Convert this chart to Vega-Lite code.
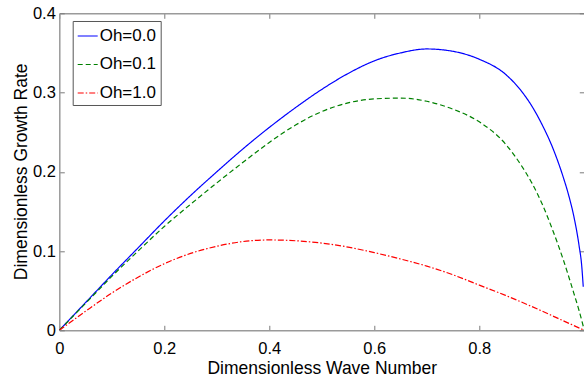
{
  "$schema": "https://vega.github.io/schema/vega-lite/v6.json",
  "width": 525,
  "height": 317,
  "autosize": "none",
  "padding": {"left": 59.3, "top": 13.3, "right": 0, "bottom": 50},
  "background": "white",
  "config": {
    "view": {"stroke": null},
    "font": "Liberation Sans",
    "axis": {"grid": false, "labelFlush": false, "domainColor": "#9a9a9a", "domainWidth": 1.5, "tickColor": "#7a7a7a", "tickSize": -5, "tickWidth": 1, "labelColor": "black", "labelFont": "Liberation Sans", "labelFontSize": 16.5, "titleFont": "Liberation Sans", "titleFontSize": 17.5, "titleFontWeight": "normal", "titleColor": "black"}
  },
  "data": {"values": [
    {"k": 0, "s": 0, "series": "Oh=0.0"},
    {"k": 0.05, "s": 0.035, "series": "Oh=0.0"},
    {"k": 0.1, "s": 0.070, "series": "Oh=0.0"},
    {"k": 0.15, "s": 0.104, "series": "Oh=0.0"},
    {"k": 0.2, "s": 0.138, "series": "Oh=0.0"},
    {"k": 0.25, "s": 0.170, "series": "Oh=0.0"},
    {"k": 0.3, "s": 0.200, "series": "Oh=0.0"},
    {"k": 0.35, "s": 0.229, "series": "Oh=0.0"},
    {"k": 0.4, "s": 0.256, "series": "Oh=0.0"},
    {"k": 0.45, "s": 0.281, "series": "Oh=0.0"},
    {"k": 0.5, "s": 0.304, "series": "Oh=0.0"},
    {"k": 0.55, "s": 0.324, "series": "Oh=0.0"},
    {"k": 0.6, "s": 0.340, "series": "Oh=0.0"},
    {"k": 0.65, "s": 0.350, "series": "Oh=0.0"},
    {"k": 0.7, "s": 0.355, "series": "Oh=0.0"},
    {"k": 0.75, "s": 0.352, "series": "Oh=0.0"},
    {"k": 0.8, "s": 0.342, "series": "Oh=0.0"},
    {"k": 0.85, "s": 0.323, "series": "Oh=0.0"},
    {"k": 0.88, "s": 0.302, "series": "Oh=0.0"},
    {"k": 0.9, "s": 0.283, "series": "Oh=0.0"},
    {"k": 0.92, "s": 0.259, "series": "Oh=0.0"},
    {"k": 0.94, "s": 0.230, "series": "Oh=0.0"},
    {"k": 0.96, "s": 0.193, "series": "Oh=0.0"},
    {"k": 0.97, "s": 0.171, "series": "Oh=0.0"},
    {"k": 0.98, "s": 0.144, "series": "Oh=0.0"},
    {"k": 0.99, "s": 0.107, "series": "Oh=0.0"},
    {"k": 0.995, "s": 0.082, "series": "Oh=0.0"},
    {"k": 0.998, "s": 0.055, "series": "Oh=0.0"},
    {"k": 0, "s": 0, "series": "Oh=0.1"},
    {"k": 0.05, "s": 0.034, "series": "Oh=0.1"},
    {"k": 0.1, "s": 0.068, "series": "Oh=0.1"},
    {"k": 0.15, "s": 0.100, "series": "Oh=0.1"},
    {"k": 0.2, "s": 0.131, "series": "Oh=0.1"},
    {"k": 0.25, "s": 0.159, "series": "Oh=0.1"},
    {"k": 0.3, "s": 0.186, "series": "Oh=0.1"},
    {"k": 0.35, "s": 0.212, "series": "Oh=0.1"},
    {"k": 0.4, "s": 0.237, "series": "Oh=0.1"},
    {"k": 0.45, "s": 0.259, "series": "Oh=0.1"},
    {"k": 0.5, "s": 0.276, "series": "Oh=0.1"},
    {"k": 0.55, "s": 0.287, "series": "Oh=0.1"},
    {"k": 0.6, "s": 0.292, "series": "Oh=0.1"},
    {"k": 0.65, "s": 0.293, "series": "Oh=0.1"},
    {"k": 0.7, "s": 0.289, "series": "Oh=0.1"},
    {"k": 0.75, "s": 0.279, "series": "Oh=0.1"},
    {"k": 0.8, "s": 0.263, "series": "Oh=0.1"},
    {"k": 0.85, "s": 0.235, "series": "Oh=0.1"},
    {"k": 0.88, "s": 0.208, "series": "Oh=0.1"},
    {"k": 0.9, "s": 0.186, "series": "Oh=0.1"},
    {"k": 0.92, "s": 0.159, "series": "Oh=0.1"},
    {"k": 0.94, "s": 0.126, "series": "Oh=0.1"},
    {"k": 0.96, "s": 0.089, "series": "Oh=0.1"},
    {"k": 0.98, "s": 0.047, "series": "Oh=0.1"},
    {"k": 0.99, "s": 0.025, "series": "Oh=0.1"},
    {"k": 1.0, "s": 0, "series": "Oh=0.1"},
    {"k": 0, "s": 0, "series": "Oh=1.0"},
    {"k": 0.05, "s": 0.024, "series": "Oh=1.0"},
    {"k": 0.1, "s": 0.047, "series": "Oh=1.0"},
    {"k": 0.15, "s": 0.067, "series": "Oh=1.0"},
    {"k": 0.2, "s": 0.084, "series": "Oh=1.0"},
    {"k": 0.25, "s": 0.097, "series": "Oh=1.0"},
    {"k": 0.3, "s": 0.106, "series": "Oh=1.0"},
    {"k": 0.35, "s": 0.112, "series": "Oh=1.0"},
    {"k": 0.4, "s": 0.114, "series": "Oh=1.0"},
    {"k": 0.45, "s": 0.113, "series": "Oh=1.0"},
    {"k": 0.5, "s": 0.110, "series": "Oh=1.0"},
    {"k": 0.55, "s": 0.105, "series": "Oh=1.0"},
    {"k": 0.6, "s": 0.098, "series": "Oh=1.0"},
    {"k": 0.65, "s": 0.090, "series": "Oh=1.0"},
    {"k": 0.7, "s": 0.081, "series": "Oh=1.0"},
    {"k": 0.75, "s": 0.070, "series": "Oh=1.0"},
    {"k": 0.8, "s": 0.057, "series": "Oh=1.0"},
    {"k": 0.85, "s": 0.044, "series": "Oh=1.0"},
    {"k": 0.9, "s": 0.030, "series": "Oh=1.0"},
    {"k": 0.95, "s": 0.015, "series": "Oh=1.0"},
    {"k": 1.0, "s": 0, "series": "Oh=1.0"}
  ]},
  "layer": [
    {
      "mark": {"type": "line", "strokeWidth": 1.2, "clip": true, "interpolate": "monotone"},
      "encoding": {
        "x": {"field": "k", "type": "quantitative", "scale": {"domain": [0, 1], "nice": false}, "axis": {"orient": "bottom", "values": [0, 0.2, 0.4, 0.6, 0.8], "format": "~g", "labelPadding": 14.8, "title": "Dimensionless Wave Number", "titleBaseline": "alphabetic", "titleY": 43}},
        "y": {"field": "s", "type": "quantitative", "scale": {"domain": [0, 0.4], "nice": false}, "axis": {"orient": "left", "values": [0, 0.1, 0.2, 0.3, 0.4], "format": "~g", "labelPadding": 9, "title": "Dimensionless Growth Rate", "titleAngle": -90, "titleBaseline": "alphabetic", "titleAlign": "center", "titleX": -33, "titleY": 158}},
        "color": {"field": "series", "type": "nominal", "scale": {"domain": ["Oh=0.0", "Oh=0.1", "Oh=1.0"], "range": ["#0000ff", "#008000", "#ff0000"]}, "legend": {"title": null, "orient": "none", "legendX": 13.4, "legendY": 7.7, "fillColor": "white", "strokeColor": "#555555", "padding": 4, "symbolType": "stroke", "symbolSize": 400, "symbolStrokeWidth": 1.2, "labelFontSize": 17, "labelFont": "Liberation Sans", "labelColor": "black", "labelOffset": 1, "rowPadding": 9.5, "labelLimit": 200}},
        "strokeDash": {"field": "series", "type": "nominal", "scale": {"domain": ["Oh=0.0", "Oh=0.1", "Oh=1.0"], "range": [[1, 0], [5, 3], [6, 2, 1.5, 2]]}, "legend": {"title": null}}
      }
    },
    {
      "mark": {"type": "point", "opacity": 0},
      "encoding": {
        "x": {"field": "k", "type": "quantitative", "scale": {"domain": [0, 1], "nice": false}, "axis": {"orient": "top", "values": [0, 0.2, 0.4, 0.6, 0.8], "labels": false, "title": null}},
        "y": {"field": "s", "type": "quantitative", "scale": {"domain": [0, 0.4], "nice": false}, "axis": {"orient": "right", "values": [0, 0.1, 0.2, 0.3, 0.4], "labels": false, "title": null}}
      }
    }
  ],
  "resolve": {"axis": {"x": "independent", "y": "independent"}}
}
